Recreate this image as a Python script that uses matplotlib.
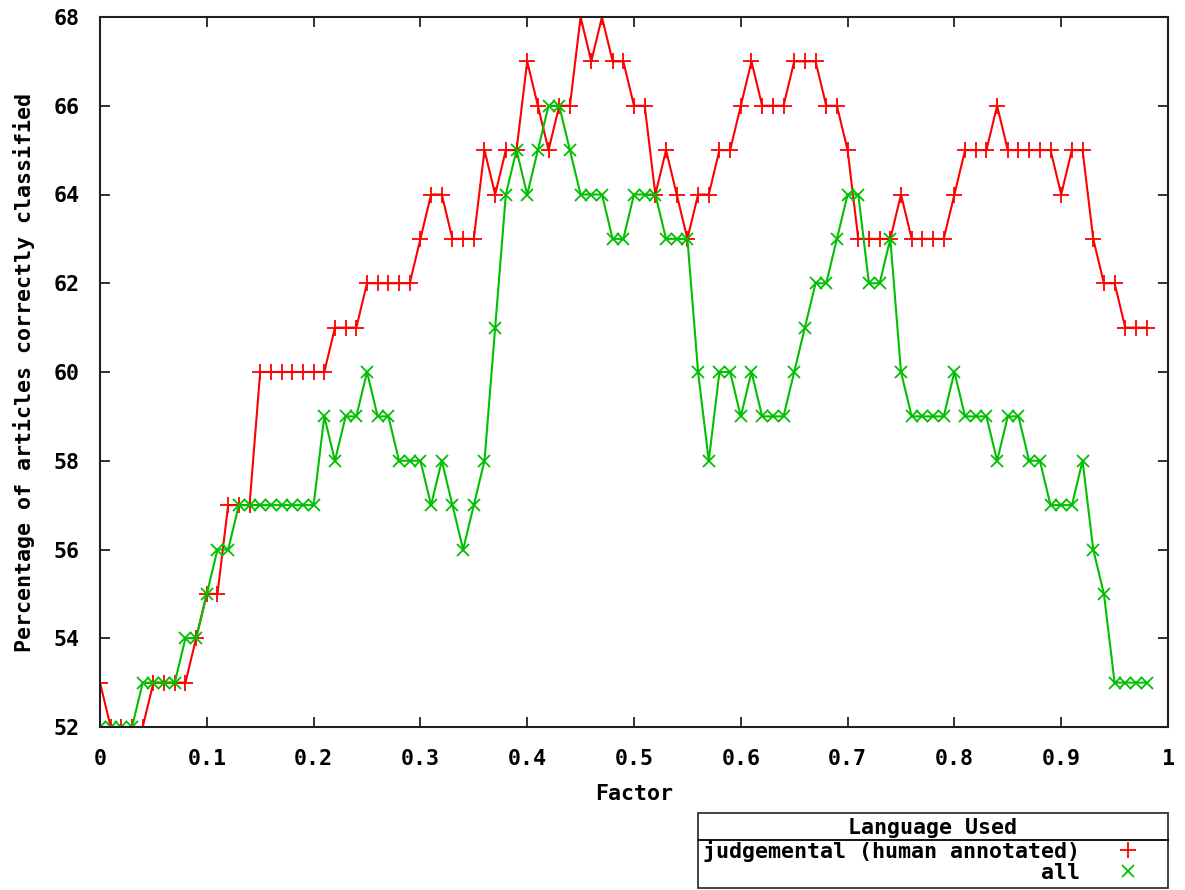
# -*- coding: UTF-8 -*-

import numpy as np
import matplotlib
matplotlib.use("Agg")
import matplotlib.pyplot as plt
from matplotlib.lines import Line2D

# factor values 0.00 .. 0.98
factor = np.arange(99) / 100.0

judgemental = [53, 52, 52, 52, 52, 53, 53, 53, 53, 54,
               55, 55, 57, 57, 57, 60, 60, 60, 60, 60,
               60, 60, 61, 61, 61, 62, 62, 62, 62, 62,
               63, 64, 64, 63, 63, 63, 65, 64, 65, 65,
               67, 66, 65, 66, 66, 68, 67, 68, 67, 67,
               66, 66, 64, 65, 64, 63, 64, 64, 65, 65,
               66, 67, 66, 66, 66, 67, 67, 67, 66, 66,
               65, 63, 63, 63, 63, 64, 63, 63, 63, 63,
               64, 65, 65, 65, 66, 65, 65, 65, 65, 65,
               64, 65, 65, 63, 62, 62, 61, 61, 61]

all_lang = [52, 52, 52, 52, 53, 53, 53, 53, 54, 54,
            55, 56, 56, 57, 57, 57, 57, 57, 57, 57,
            57, 59, 58, 59, 59, 60, 59, 59, 58, 58,
            58, 57, 58, 57, 56, 57, 58, 61, 64, 65,
            64, 65, 66, 66, 65, 64, 64, 64, 63, 63,
            64, 64, 64, 63, 63, 63, 60, 58, 60, 60,
            59, 60, 59, 59, 59, 60, 61, 62, 62, 63,
            64, 64, 62, 62, 63, 60, 59, 59, 59, 59,
            60, 59, 59, 59, 58, 59, 59, 58, 58, 57,
            57, 57, 58, 56, 55, 53, 53, 53, 53]

xticks = [0, 0.1, 0.2, 0.3, 0.4, 0.5, 0.6, 0.7, 0.8, 0.9, 1]
xtick_labels = ["0", "0.1", "0.2", "0.3", "0.4", "0.5", "0.6", "0.7", "0.8", "0.9", "1"]
yticks = [52, 54, 56, 58, 60, 62, 64, 66, 68]

FONT = {"family": "DejaVu Sans Mono", "weight": "bold", "size": 15.6}
plt.rcParams["font.family"] = "DejaVu Sans Mono"
plt.rcParams["font.weight"] = "bold"

W, H = 1185, 890
fig = plt.figure(figsize=(W / 100, H / 100), dpi=100)
ax = fig.add_axes([100 / W, 1 - 727 / H, 1068 / W, 710 / H])

ax.plot(factor, judgemental, color="#ff0000", linewidth=1.5,
        marker="+", markersize=11, markeredgewidth=1.3,
        label="judgemental (human annotated)")
ax.plot(factor, all_lang, color="#00c000", linewidth=1.5,
        marker="x", markersize=9, markeredgewidth=1.3,
        label="all")

ax.set_xlim(0, 1)
ax.set_ylim(52, 68)
ax.set_xticks(xticks)
ax.set_xticklabels(xtick_labels, fontdict=FONT)
ax.set_yticks(yticks)
ax.set_yticklabels([str(v) for v in yticks], fontdict=FONT)
ax.tick_params(direction="in", length=7, width=1.3, color="#202020",
               top=True, right=True)
ax.tick_params(axis="x", pad=16)
ax.tick_params(axis="y", pad=15)
for sp in ax.spines.values():
    sp.set_linewidth(1.5)
    sp.set_color("#202020")

ax.set_xlabel("Factor", fontdict=FONT, labelpad=11)
ax.set_ylabel("Percentage of articles correctly classified", fontdict=FONT, labelpad=13)

leg = ax.legend(title="Language Used", loc="lower right",
                bbox_to_anchor=(1168 / W, 2 / H), bbox_transform=fig.transFigure,
                markerfirst=False, prop=FONT, title_fontproperties=FONT,
                frameon=True, fancybox=False, edgecolor="black",
                handlelength=3.2, handletextpad=0.6, borderpad=0.25,
                labelspacing=0.05, borderaxespad=0)
leg.get_frame().set_linewidth(1.3)
for h in leg.legend_handles:
    h.set_linestyle("none")

# rule under the legend title
fig.canvas.draw()
lb = leg.get_window_extent()
tb = leg.get_title().get_window_extent()
inv = fig.transFigure.inverted()
(x0, y0), (x1, _) = inv.transform([(lb.x0, tb.y0 - 2), (lb.x1, tb.y0)])
fig.add_artist(Line2D([x0, x1], [y0, y0], transform=fig.transFigure,
                      color="black", linewidth=1.3))

fig.savefig("out.png", dpi=100)
